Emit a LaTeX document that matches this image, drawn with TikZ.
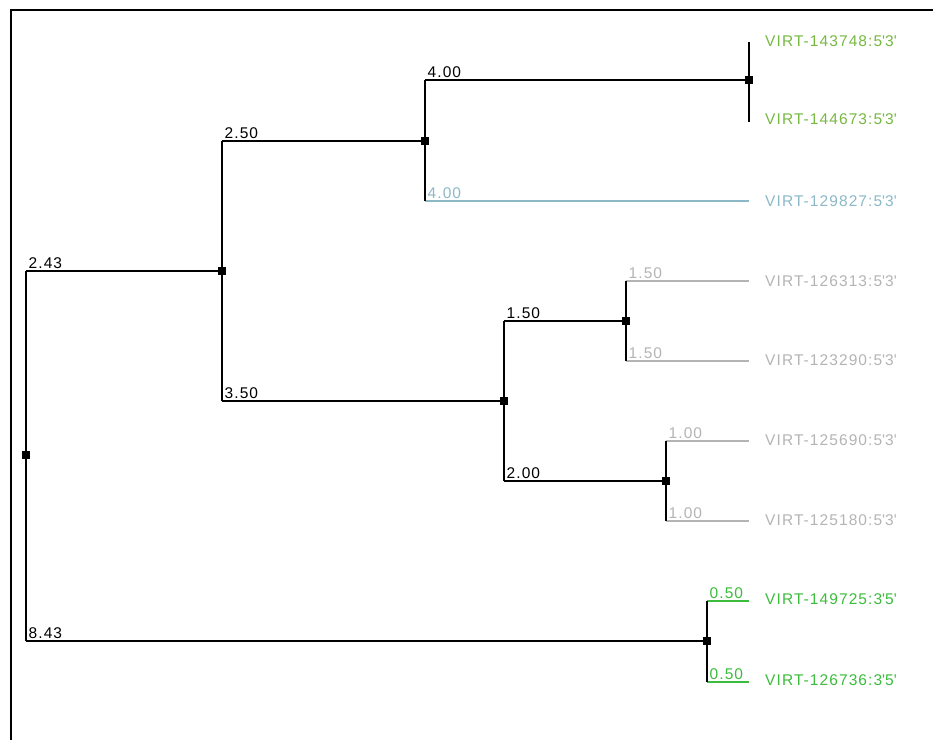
\documentclass[tikz,border=0pt]{standalone}
\usepackage{fontspec}
\newfontfamily\labfont{Liberation Sans}[LetterSpace=7]
\definecolor{lgreen}{HTML}{77B843}
\definecolor{dgreen}{HTML}{3CBC3C}
\definecolor{lblue}{HTML}{8CB8C8}
\definecolor{lgrey}{HTML}{B4B4B4}
\newcommand{\qq}{\textquotesingle}
\begin{document}
\begin{tikzpicture}[x=1pt,y=-1pt,
  inner/.style={rectangle,fill=black,minimum size=7pt,inner sep=0pt},
  tree/.style={line width=1.4pt},
  blab/.style={font={\labfont\fontsize{15.5pt}{15.5pt}\selectfont},anchor=base west,inner sep=0pt,pos=0,xshift=2pt,yshift=3pt},
  leaf/.style={font={\labfont\fontsize{15.5pt}{15.5pt}\selectfont},anchor=west,inner sep=0pt}]
\useasboundingbox (0,0) rectangle (933,740);
\draw[line width=2pt] (11,740) -- (11,10) -- (933,10);
% internal nodes
\node[inner] (r) at (26,455) {};
\node[inner] (a) at (222,271) {};
\node[inner] (b) at (425,141) {};
\node[inner] (c) at (749,80) {};
\node[inner] (d) at (504,401) {};
\node[inner] (e) at (626,321) {};
\node[inner] (f) at (666,481) {};
\node[inner] (g) at (707,641) {};
% leaf ends
\coordinate (l1) at (749,42);
\coordinate (l2) at (749,122);
\coordinate (l3) at (749,201);
\coordinate (l4) at (749,281);
\coordinate (l5) at (749,361);
\coordinate (l6) at (749,441);
\coordinate (l7) at (749,521);
\coordinate (l8) at (749,601);
\coordinate (l9) at (749,682);
% leaf labels
\node[leaf,text=lgreen] (t1) at (765,41) {VIRT-143748:5\qq3\qq};
\node[leaf,text=lgreen] (t2) at (765,119) {VIRT-144673:5\qq3\qq};
\node[leaf,text=lblue] (t3) at (765,201) {VIRT-129827:5\qq3\qq};
\node[leaf,text=lgrey] (t4) at (765,281) {VIRT-126313:5\qq3\qq};
\node[leaf,text=lgrey] (t5) at (765,360) {VIRT-123290:5\qq3\qq};
\node[leaf,text=lgrey] (t6) at (765,440) {VIRT-125690:5\qq3\qq};
\node[leaf,text=lgrey] (t7) at (765,520) {VIRT-125180:5\qq3\qq};
\node[leaf,text=dgreen] (t8) at (765,599) {VIRT-149725:3\qq5\qq};
\node[leaf,text=dgreen] (t9) at (765,680) {VIRT-126736:3\qq5\qq};
% horizontal branches
\draw[tree] (r |- a) -- node[blab]{2.43} (a);
\draw[tree] (a |- b) -- node[blab]{2.50} (b);
\draw[tree] (b |- c) -- node[blab]{4.00} (c);
\draw[tree,lblue] (b |- l3) -- node[blab,text=lblue]{4.00} (l3);
\draw[tree] (a |- d) -- node[blab]{3.50} (d);
\draw[tree] (d |- e) -- node[blab]{1.50} (e);
\draw[tree,lgrey] (e |- l4) -- node[blab,text=lgrey]{1.50} (l4);
\draw[tree,lgrey] (e |- l5) -- node[blab,text=lgrey]{1.50} (l5);
\draw[tree] (d |- f) -- node[blab]{2.00} (f);
\draw[tree,lgrey] (f |- l6) -- node[blab,text=lgrey]{1.00} (l6);
\draw[tree,lgrey] (f |- l7) -- node[blab,text=lgrey]{1.00} (l7);
\draw[tree] (r |- g) -- node[blab]{8.43} (g);
\draw[tree,dgreen] (g |- l8) -- node[blab,text=dgreen]{0.50} (l8);
\draw[tree,dgreen] (g |- l9) -- node[blab,text=dgreen]{0.50} (l9);
% vertical branches
\draw[tree] (r |- a) -- (r |- g);
\draw[tree] (a |- b) -- (a |- d);
\draw[tree] (b |- c) -- (b |- l3);
\draw[tree] (l1) -- (l2);
\draw[tree] (d |- e) -- (d |- f);
\draw[tree] (e |- l4) -- (e |- l5);
\draw[tree] (f |- l6) -- (f |- l7);
\draw[tree] (g |- l8) -- (g |- l9);
% redraw node squares on top
\foreach \n in {r,a,b,c,d,e,f,g} \fill (\n.south west) rectangle (\n.north east);
\end{tikzpicture}
\end{document}
